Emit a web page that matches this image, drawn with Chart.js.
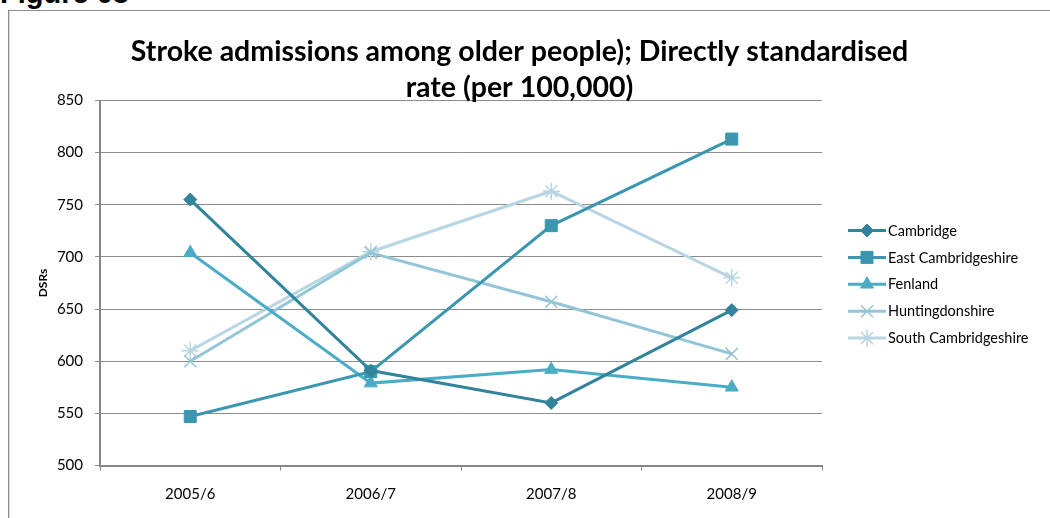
<!DOCTYPE html>
<html>
<head>
<meta charset="utf-8">
<script src="https://cdn.jsdelivr.net/npm/chart.js@4/dist/chart.umd.min.js"></script>
<style>
  body { margin: 0; background: #fff; width: 1050px; height: 518px; overflow: hidden; position: relative; }
  #fig { position: absolute; left: 0; top: -23px; font: bold 29px "Liberation Sans", Arial, sans-serif; color: #000; }
  #box { position: absolute; left: 8px; top: 10px; width: 1080px; height: 540px; border: 1px solid #8c8c8c; box-shadow: inset 1px 0 0 #e9e96a; }
  #wrap { position: absolute; left: 9px; top: 11px; }
</style>
</head>
<body>
<div id="fig">Figure 08</div>
<div id="box"></div>
<div id="wrap"><canvas id="chart" width="1041" height="507"></canvas></div>
<script>
const categories = ["2005/6", "2006/7", "2007/8", "2008/9"];
const cambridge = [755, 591, 560, 649];
const eastCambridgeshire = [547, 590, 730, 813];
const fenland = [704, 579, 592, 575];
const huntingdonshire = [600, 704, 657, 607];
const southCambridgeshire = [610, 705, 763, 680];
const yTicks = [500, 550, 600, 650, 700, 750, 800, 850];

const FONT = "Lato, 'Open Sans', sans-serif";

function series(label, data, color, style, radius, bw) {
  return {
    label: label,
    data: data,
    borderColor: color,
    backgroundColor: color,
    borderWidth: 3,
    pointStyle: style,
    pointRadius: radius,
    pointHoverRadius: radius,
    pointBorderWidth: bw,
    pointBackgroundColor: color,
    pointBorderColor: color,
    tension: 0,
  };
}

// right-hand box that takes room from the plot (not from the title)
// and draws the legend like the original: short line with the marker on it
const sideLegend = {
  id: "sideLegend",
  beforeInit(chart) {
    const box = {
      position: "right",
      fullSize: false,
      weight: 0,
      options: {},
      left: 0, top: 0, right: 0, bottom: 0, width: 0, height: 0,
      isHorizontal() { return false; },
      getPadding() { return { left: 0, top: 0, right: 0, bottom: 0 }; },
      update(maxWidth, maxHeight) {
        this.width = 208;
        this.height = maxHeight;
      },
      draw() {
        const ctx = chart.ctx;
        const x0 = this.left + 26, y0 = 219.5, step = 26.9;
        chart.data.datasets.forEach((ds, i) => {
          const y = y0 + i * step;
          ctx.save();
          ctx.strokeStyle = ds.borderColor;
          ctx.lineWidth = 3;
          ctx.beginPath();
          ctx.moveTo(x0, y);
          ctx.lineTo(x0 + 38, y);
          ctx.stroke();
          ctx.fillStyle = ds.borderColor;
          ctx.lineWidth = ds.pointBorderWidth;
          Chart.helpers.drawPoint(ctx, { pointStyle: ds.pointStyle, radius: ds.pointRadius, borderWidth: ds.pointBorderWidth, rotation: 0 }, x0 + 19, y);
          ctx.fillStyle = "#000";
          ctx.font = "14.5px " + FONT;
          ctx.textBaseline = "middle";
          ctx.fillText(ds.label, x0 + 40, y + 0.5);
          ctx.restore();
        });
      },
    };
    Chart.layouts.addBox(chart, box);
  },
};

new Chart(document.getElementById("chart").getContext("2d"), {
  type: "line",
  data: {
    labels: categories,
    datasets: [
      series("Cambridge", cambridge, "#31849b", "rectRot", 6.5, 1),
      series("East Cambridgeshire", eastCambridgeshire, "#3b97b0", "rect", 8.5, 1),
      series("Fenland", fenland, "#4bacc6", "triangle", 7.5, 1),
      series("Huntingdonshire", huntingdonshire, "#93c5d7", "crossRot", 8.5, 1.5),
      series("South Cambridgeshire", southCambridgeshire, "#b7d6e2", "star", 8.5, 1.5),
    ],
  },
  options: {
    responsive: false,
    animation: false,
    events: [],
    layout: { padding: { left: 0, right: 20, top: 0, bottom: 0 } },
    plugins: {
      legend: { display: false },
      tooltip: { enabled: false },
      title: {
        display: true,
        text: ["Stroke admissions among older people); Directly standardised", "rate (per 100,000)"],
        color: "#000",
        font: { family: FONT, size: 28.5, weight: "bold", lineHeight: 1.25 },
        padding: { top: 23, bottom: -4.75 },
      },
    },
    scales: {
      x: {
        offset: true,
        grid: { offset: true, drawOnChartArea: false, drawTicks: true, tickLength: 5, color: "#868686", lineWidth: 1 },
        border: { color: "#868686", width: 2 },
        ticks: { color: "#000", padding: 14.5, font: { family: FONT, size: 15 }, maxRotation: 0 },
        afterFit(scale) { scale.height = 52.5; },
      },
      y: {
        min: 500,
        max: 850,
        afterBuildTicks(scale) { scale.ticks = yTicks.map(v => ({ value: v })); },
        grid: { color: "#8c8c8c", lineWidth: 1, drawTicks: true, tickLength: 5 },
        border: { color: "#868686", width: 2 },
        ticks: { color: "#000", padding: 12, font: { family: FONT, size: 15 } },
        title: {
          display: true,
          text: "DSRs",
          color: "#000",
          font: { family: FONT, size: 12, weight: "bold" },
          padding: { top: 26.5, bottom: 0 },
        },
        afterFit(scale) { scale.width = 91; },
      },
    },
  },
  plugins: [sideLegend],
});
</script>
</body>
</html>
